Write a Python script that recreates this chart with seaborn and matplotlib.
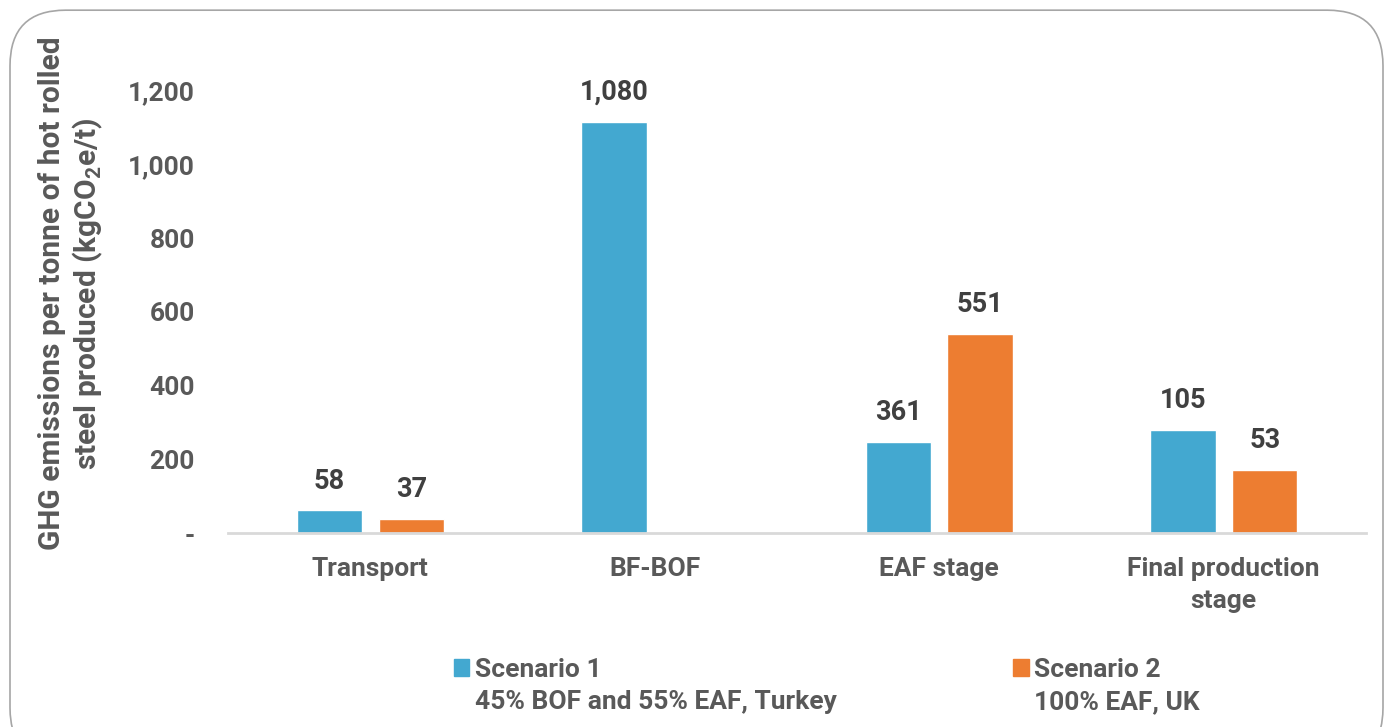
import numpy as np
import pandas as pd
import matplotlib.pyplot as plt
import seaborn as sns
from matplotlib.patches import Patch, FancyBboxPatch

# values (px heights), labels as printed on the chart
categories = ["Transport", "BF-BOF", "EAF stage", "Final production\nstage"]
scenario1 = [62, 1116, 247, 280]
scenario2 = [38, np.nan, 540, 171]
labels_s1 = ["58", "1,080", "361", "105"]
labels_s2 = ["37", "", "551", "53"]
series = ["Scenario 1", "Scenario 2"]
series_notes = ["45% BOF and 55% EAF, Turkey", "100% EAF, UK"]
yticks = [0, 200, 400, 600, 800, 1000, 1200]
yticklabels = ["-", "200", "400", "600", "800", "1,000", "1,200"]
colors = ["#43A8D0", "#ED7D31"]

df = pd.DataFrame({
    "stage": categories * 2,
    "scenario": [series[0]] * 4 + [series[1]] * 4,
    "value": scenario1 + scenario2,
})

sns.set_theme(style="white")
plt.rcParams["font.family"] = ["Roboto", "DejaVu Sans"]
plt.rcParams["font.weight"] = "bold"

fig = plt.figure(figsize=(13.91, 7.27), dpi=100)
ax = fig.add_axes([0.164, 0.2668, 0.818, 0.659])

sns.barplot(data=df, x="stage", y="value", hue="scenario", palette=colors,
            width=0.576, gap=0.2, order=categories, hue_order=series,
            legend=False, ax=ax, saturation=1)

ax.set_ylim(0, 1300)
ax.set_xlim(-0.5, 3.5)
ax.set_yticks(yticks)
ax.set_yticklabels(yticklabels)
ax.set_xticks(range(len(categories)))
ax.set_xticklabels(categories, linespacing=1.45)
ax.tick_params(axis="y", length=0, pad=24, labelsize=19, labelcolor="#595959")
ax.tick_params(axis="x", length=0, pad=17, labelsize=19, labelcolor="#595959")
for t in ax.get_xticklabels() + ax.get_yticklabels():
    t.set_fontweight("bold")

sns.despine(ax=ax, left=True)
ax.spines["bottom"].set_color("#D9D9D9")
ax.spines["bottom"].set_linewidth(2)
ax.set_xlabel("")
ax.set_ylabel("GHG emissions per tonne of hot rolled\nsteel produced (kgCO$_\\mathregular{2}$e/t)",
              fontsize=21.5, fontweight="bold", color="#595959", linespacing=1.2)
ax.yaxis.set_label_coords(-0.108, 0.5)

# data labels
all_labels = [labels_s1, labels_s2]
for cont, labs in zip(ax.containers, all_labels):
    for bar in cont:
        h = bar.get_height()
        if np.isnan(h):
            continue
        idx = int(round(bar.get_x() + bar.get_width() / 2))
        ax.annotate(labs[idx], (bar.get_x() + bar.get_width() / 2, h),
                    xytext=(0, 21), textcoords="offset points",
                    ha="center", va="center", fontsize=19.5,
                    fontweight="bold", color="#404040")

# legend: patch on first line, note on second line
blank = Patch(facecolor="none", edgecolor="none")
handles = [Patch(color=colors[0]), blank, Patch(color=colors[1]), blank]
leg_labels = [series[0], series_notes[0], series[1], series_notes[1]]
fig.legend(handles, leg_labels, ncol=2, loc="upper left",
           bbox_to_anchor=(0.309, 0.128), frameon=False,
           handlelength=0.6, handleheight=0.6, handletextpad=0.2,
           columnspacing=6.7, labelspacing=0.32,
           prop={"size": 19, "weight": "bold"}, labelcolor="#595959")

# rounded outer frame
frame = FancyBboxPatch((10 / 1391, -0.05), 1373 / 1391, 0.036 + 1.0,
                       boxstyle="round,pad=0,rounding_size=0.04",
                       transform=fig.transFigure, fill=False,
                       edgecolor="#A6A6A6", linewidth=1.2,
                       mutation_aspect=1391 / 727)
fig.patches.append(frame)

fig.savefig("out.png", dpi=100)
